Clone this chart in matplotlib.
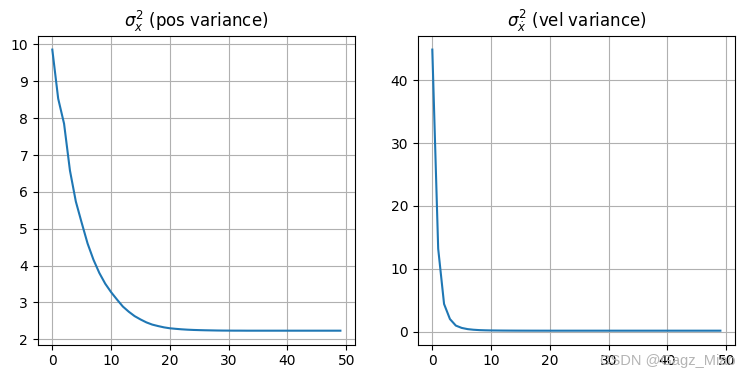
import numpy as np
import matplotlib.pyplot as plt

steps = np.arange(50)

# position variance
pos_var = [9.86, 8.53, 7.85, 6.58, 5.74, 5.16, 4.60, 4.16, 3.80, 3.51,
           3.28, 3.08, 2.89, 2.75, 2.63, 2.54, 2.46, 2.40, 2.36, 2.325,
           2.30, 2.285, 2.272, 2.262, 2.255, 2.25, 2.246, 2.243, 2.24, 2.238,
           2.237, 2.236, 2.236, 2.235, 2.235, 2.235, 2.235, 2.235, 2.235, 2.235,
           2.235, 2.235, 2.235, 2.235, 2.235, 2.235, 2.235, 2.235, 2.235, 2.235]

# velocity variance
vel_var = [44.9, 13.2, 4.4, 2.0, 0.96, 0.59, 0.40, 0.30, 0.24, 0.21,
           0.19, 0.18, 0.17, 0.165, 0.16, 0.157, 0.155, 0.153, 0.152, 0.151,
           0.15, 0.15, 0.15, 0.15, 0.15, 0.15, 0.15, 0.15, 0.15, 0.15,
           0.15, 0.15, 0.15, 0.15, 0.15, 0.15, 0.15, 0.15, 0.15, 0.15,
           0.15, 0.15, 0.15, 0.15, 0.15, 0.15, 0.15, 0.15, 0.15, 0.15]

fig = plt.figure(figsize=(7.45, 3.78), dpi=100)

ax1 = fig.add_subplot(1, 2, 1)
ax1.plot(steps, pos_var)
ax1.grid()
ax1.set_title(r"$\sigma_x^2$ (pos variance)")

ax2 = fig.add_subplot(1, 2, 2)
ax2.plot(steps, vel_var)
ax2.grid()
ax2.set_title(r"$\sigma_{\dot{x}}^2$ (vel variance)")

ax1.set_position([37.9 / 745, 0.088, (354.8 - 37.9) / 745, 0.818])
ax2.set_position([417.9 / 745, 0.088, (734.8 - 417.9) / 745, 0.818])

# watermark
fig.text(0.987, 0.045, "CSDN @Gagz_Miao", ha="right", va="center",
         color="#b4b4b4", fontsize=10.5, family="Liberation Sans")

plt.savefig("out.png")
